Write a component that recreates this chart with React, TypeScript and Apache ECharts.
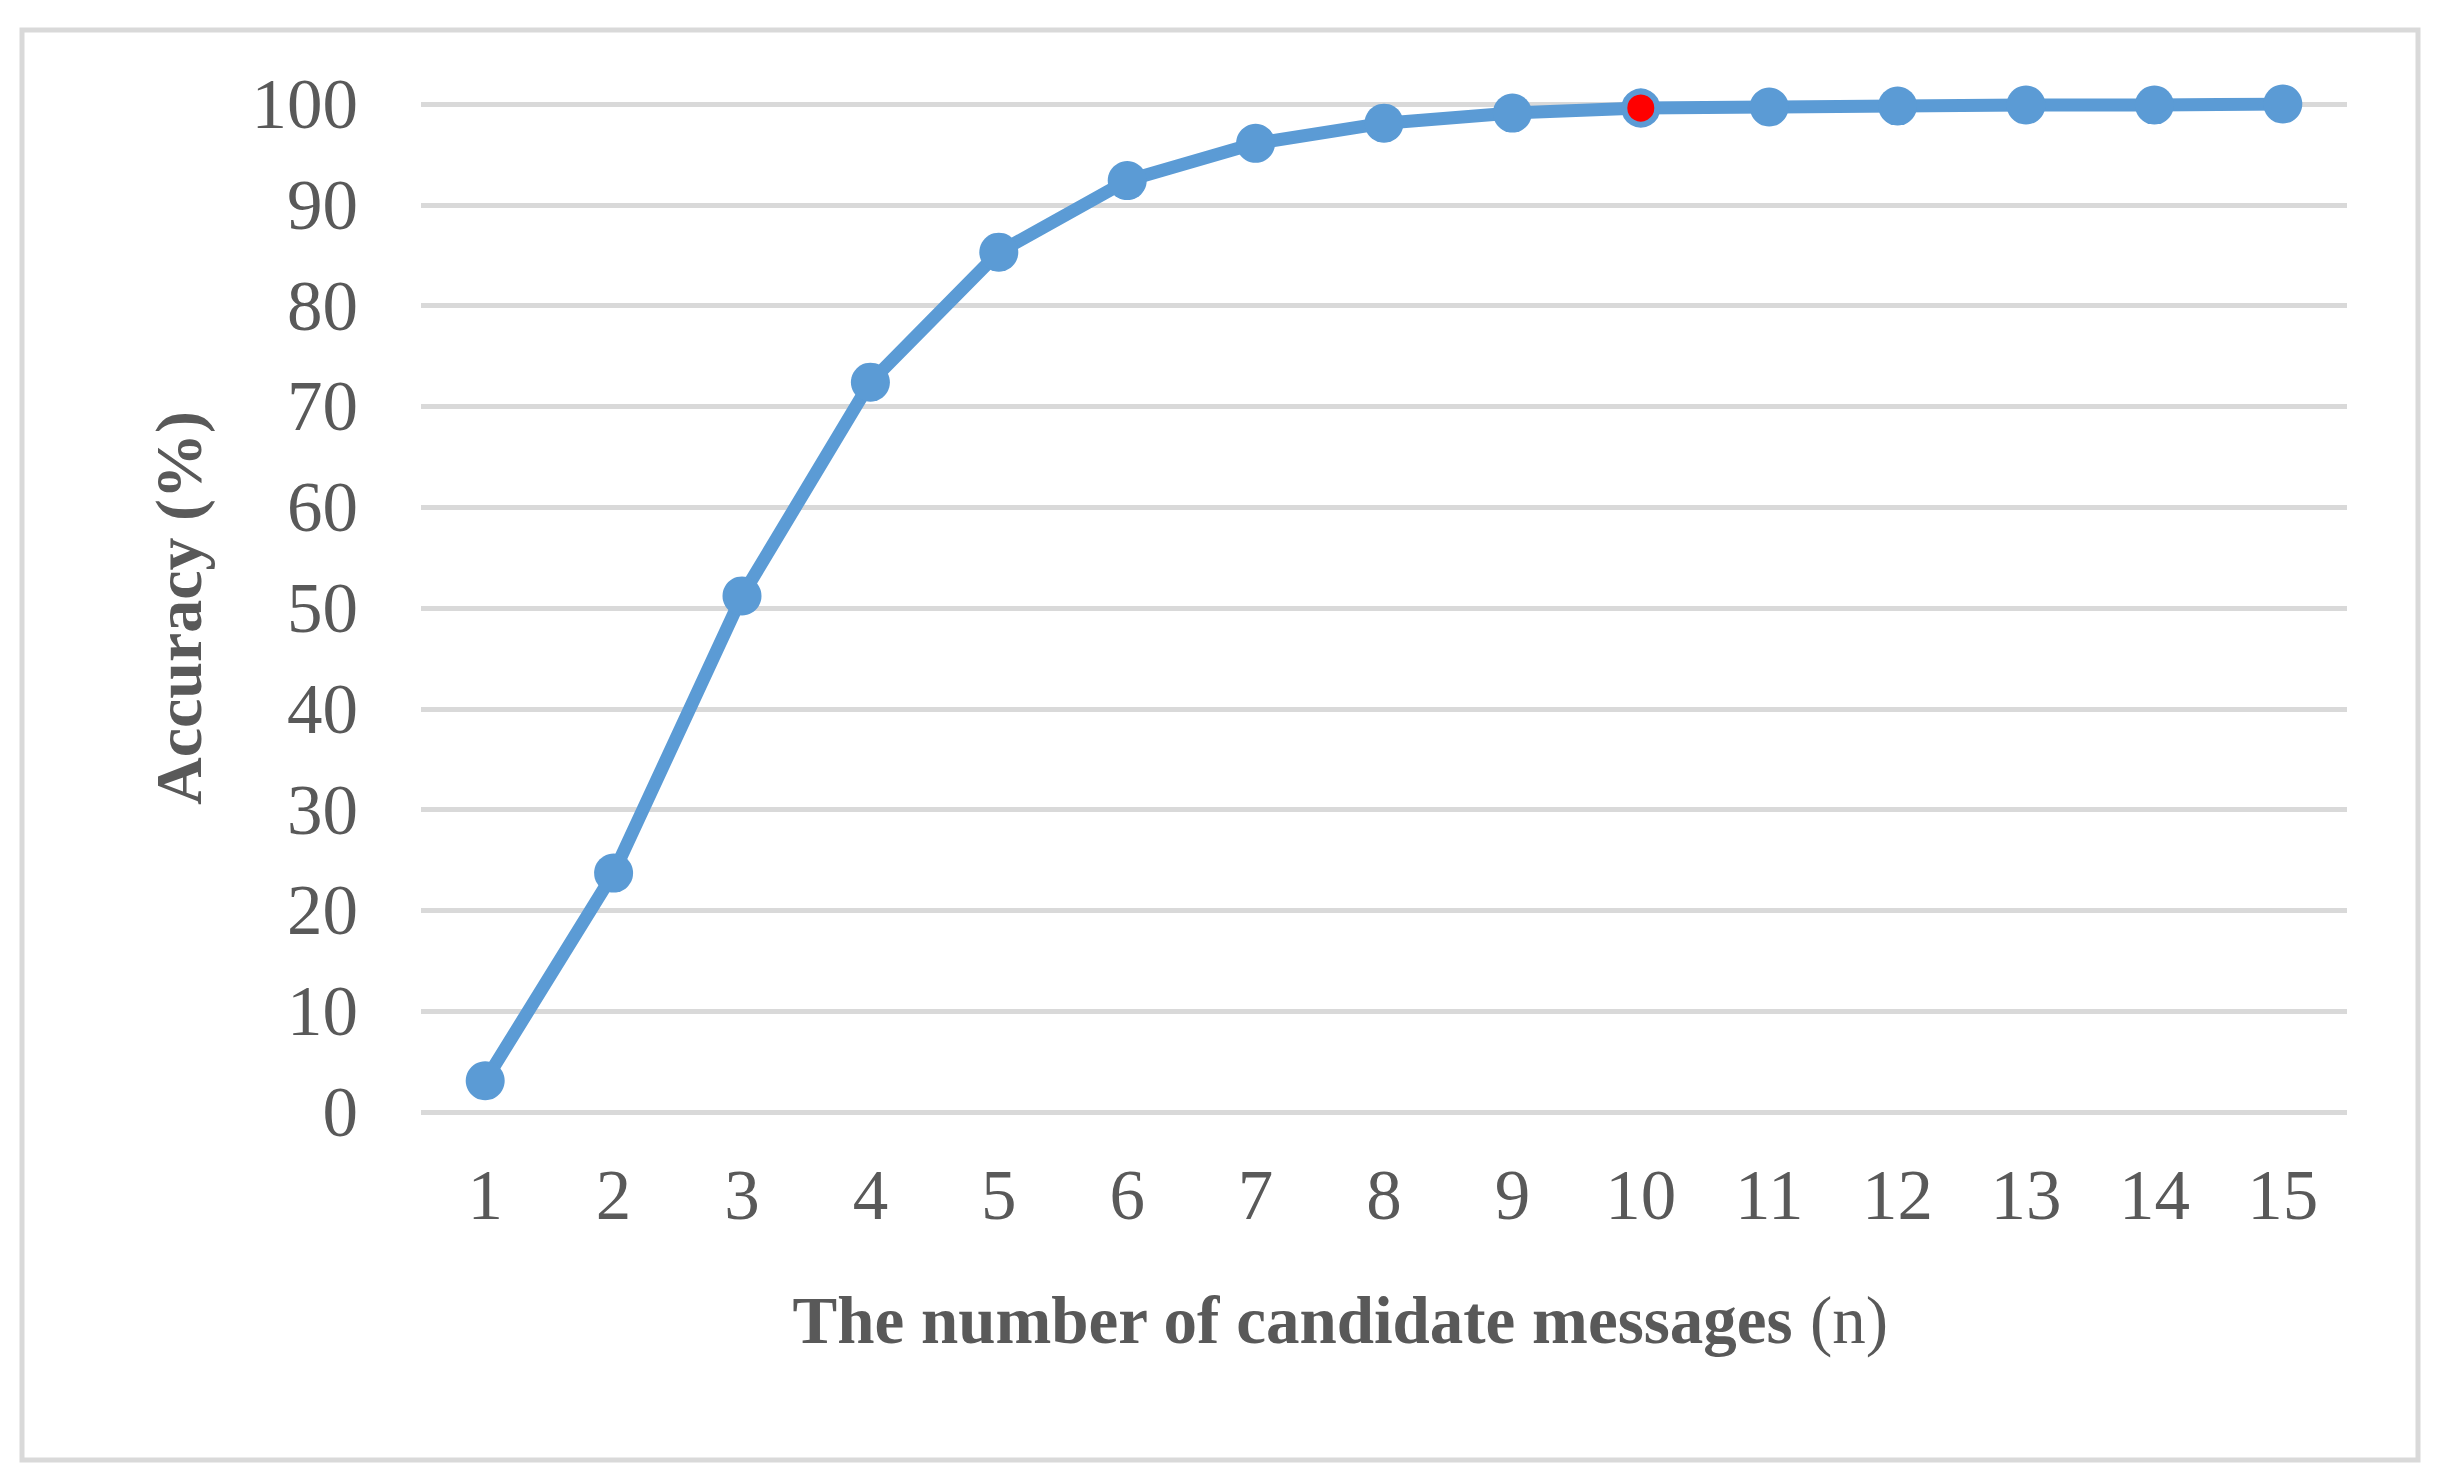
import React, { useEffect, useRef } from "react";
import * as echarts from "echarts";

const categories = ["1", "2", "3", "4", "5", "6", "7", "8", "9", "10", "11", "12", "13", "14", "15"];
const accuracy = [3.1, 23.7, 51.2, 72.4, 85.3, 92.4, 96.1, 98.1, 99.1, 99.6, 99.7, 99.8, 99.9, 99.9, 100];
const highlightIndex = 9;
const yTitle = "Accuracy (%)";
const xTitle = "The number of candidate messages";
const xTitleUnit = "(n)";

const FONT = '"Liberation Serif", "Times New Roman", serif';
const BLUE = "#5b9bd5";
const TEXT = "#595959";
const GRID = "#d9d9d9";

export default function App() {
  const ref = useRef<HTMLDivElement>(null);
  useEffect(() => {
    if (!ref.current) return;
    const chart = echarts.init(ref.current, null, { renderer: "svg" });
    const data = accuracy.map((v, i) =>
      i === highlightIndex
        ? {
            value: v,
            symbolSize: 33,
            itemStyle: { color: "#ff0000", borderColor: BLUE, borderWidth: 6 },
          }
        : v
    );
    chart.setOption({
      animation: false,
      backgroundColor: "#ffffff",
      graphic: [
        {
          type: "rect",
          shape: { x: 22, y: 30, width: 2396, height: 1430 },
          style: { fill: "none", stroke: GRID, lineWidth: 5 },
          silent: true,
        },
      ],
      grid: { left: 421, right: 97, top: 104, bottom: 372, containLabel: false },
      xAxis: {
        type: "category",
        data: categories,
        boundaryGap: true,
        axisLine: { show: false },
        axisTick: { show: false },
        axisLabel: { color: TEXT, fontFamily: FONT, fontSize: 71, margin: 47 },
        splitLine: { show: false },
        name: `{b|${xTitle}} {n|${xTitleUnit}}`,
        nameLocation: "middle",
        nameGap: 174,
        nameTextStyle: {
          color: TEXT,
          fontFamily: FONT,
          fontSize: 67,
          padding: [0, 88, 0, 0],
          rich: {
            b: { fontFamily: FONT, fontSize: 67, fontWeight: "bold", color: TEXT },
            n: { fontFamily: FONT, fontSize: 67, fontWeight: "normal", color: TEXT },
          },
        },
      },
      yAxis: {
        type: "value",
        min: 0,
        max: 100,
        interval: 10,
        axisLine: { show: false },
        axisTick: { show: false },
        axisLabel: { color: TEXT, fontFamily: FONT, fontSize: 71, margin: 63 },
        splitLine: { show: true, lineStyle: { color: GRID, width: 5 } },
        name: yTitle,
        nameLocation: "middle",
        nameGap: 210,
        nameTextStyle: { color: TEXT, fontFamily: FONT, fontSize: 66, fontWeight: "bold" },
      },
      series: [
        {
          type: "line",
          data,
          symbol: "circle",
          symbolSize: 39,
          lineStyle: { color: BLUE, width: 13 },
          itemStyle: { color: BLUE },
          z: 3,
        },
      ],
    });
    return () => chart.dispose();
  }, []);
  return (
    <div
      ref={ref}
      style={{ position: "fixed", left: 0, top: 0, width: 2444, height: 1484, background: "#fff" }}
    />
  );
}
